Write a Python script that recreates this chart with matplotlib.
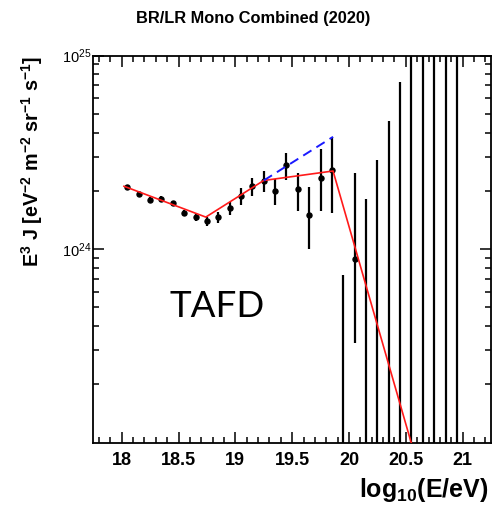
import matplotlib
matplotlib.use("Agg")
import matplotlib.pyplot as plt
from matplotlib.ticker import MultipleLocator, FixedLocator, FuncFormatter, NullFormatter
import numpy as np

plt.rcParams['font.family'] = ['Liberation Sans', 'DejaVu Sans']
plt.rcParams['mathtext.fontset'] = 'custom'
plt.rcParams['mathtext.rm'] = 'Liberation Sans'
plt.rcParams['mathtext.bf'] = 'Liberation Sans:bold'
plt.rcParams['mathtext.it'] = 'Liberation Sans:italic'

# ---- data ----
log_e = [18.05, 18.15, 18.25, 18.35, 18.45, 18.55, 18.65, 18.75, 18.85, 18.95,
         19.05, 19.15, 19.25, 19.35, 19.45, 19.55, 19.65, 19.75, 19.85, 20.05]
flux = [2.08e24, 1.93e24, 1.80e24, 1.82e24, 1.72e24, 1.53e24, 1.47e24, 1.39e24, 1.46e24, 1.62e24,
        1.87e24, 2.11e24, 2.24e24, 2.00e24, 2.72e24, 2.03e24, 1.49e24, 2.34e24, 2.56e24, 0.887e24]
err_lo = [0.05e24, 0.05e24, 0.05e24, 0.05e24, 0.05e24, 0.055e24, 0.07e24, 0.07e24, 0.09e24, 0.12e24,
          0.19e24, 0.23e24, 0.28e24, 0.31e24, 0.45e24, 0.46e24, 0.49e24, 0.76e24, 1.02e24, 0.56e24]
err_hi = [0.05e24, 0.05e24, 0.05e24, 0.05e24, 0.05e24, 0.055e24, 0.07e24, 0.07e24, 0.09e24, 0.12e24,
          0.19e24, 0.23e24, 0.28e24, 0.30e24, 0.42e24, 0.45e24, 0.59e24, 0.93e24, 1.24e24, 1.58e24]

# bins with zero events: only upper error bars drawn
lim_e = [19.95, 20.15, 20.25, 20.35, 20.45, 20.55, 20.65, 20.75, 20.85, 20.95]
lim_hi = [7.3e23, 1.82e24, 2.88e24, 4.6e24, 7.3e24, 1.15e25, 1.8e25, 2.8e25, 4.4e25, 7.0e25]

# broken power law fit (red) and extension without suppression (blue dashed)
fit_e = [18.02, 18.74, 19.25, 19.86, 20.60]
fit_v = [2.11e24, 1.462e24, 2.26e24, 2.53e24, 7.8e22]
ext_e = [19.25, 19.86]
ext_v = [2.26e24, 3.80e24]

x_major = [18, 18.5, 19, 19.5, 20, 20.5, 21]
y_major = [1e24, 1e25]
y_minor = [m * d for d in (1e23, 1e24) for m in (2.0, 3.0, 4.0, 5.0, 6.0, 7.0, 8.0, 9.0)]

# ---- figure ----
W, H = 492, 514
fig = plt.figure(figsize=(W / 100, H / 100), dpi=100)
ax = fig.add_axes([93.3 / W, 1 - 442.5 / H, (491 - 93.3) / W, (442.5 - 55.5) / H])

ax.set_yscale('log')
ax.set_xlim(17.75, 21.25)
ax.set_ylim(1e23, 1e25)

ax.vlines(lim_e, 1e22, lim_hi, colors='black', linewidth=1.6, zorder=3)
ax.errorbar(log_e, flux, yerr=[err_lo, err_hi], fmt='o', color='black',
            markersize=3.6, elinewidth=1.6, capsize=0, zorder=4)
ax.plot(fit_e, fit_v, color='#ff1a1a', linewidth=1.2, zorder=5)
ax.plot(ext_e, ext_v, color='#1a1aff', linewidth=1.4, linestyle=(0, (5, 3)), zorder=5)

ax.text(18.843, 5.05e23, 'TAFD', fontsize=26.5, family=['Lato', 'DejaVu Sans'],
        ha='center', va='center')

# ticks
ax.xaxis.set_major_locator(FixedLocator(x_major))
ax.xaxis.set_minor_locator(MultipleLocator(0.1))
ax.xaxis.set_major_formatter(FuncFormatter(lambda v, p: '%g' % v))
ax.yaxis.set_major_locator(FixedLocator(y_major))
ax.yaxis.set_minor_locator(FixedLocator(y_minor))
ax.yaxis.set_minor_formatter(NullFormatter())
ax.yaxis.set_major_formatter(FuncFormatter(lambda v, p: r'$\mathrm{10^{%d}}$' % int(round(np.log10(float(v))))))

ax.tick_params(which='both', direction='in', top=True, right=True, width=1.1)
ax.tick_params(which='major', length=8)
ax.tick_params(which='minor', length=4.3)
ax.tick_params(axis='x', labelsize=13, pad=7)
ax.tick_params(axis='y', labelsize=10.5, pad=1)
for lab in ax.get_xticklabels():
    lab.set_fontweight('bold')
for s in ax.spines.values():
    s.set_linewidth(1.3)

fig.text(253 / W, 1 - 18 / H, 'BR/LR Mono Combined (2020)', fontsize=11.8,
         fontweight='bold', ha='center', va='center')
fig.text(32 / W, 1 - 161 / H,
         r'$\mathbf{E^{3}\ J\ [eV^{-2}\ m^{-2}\ sr^{-1}\ s^{-1}]}$',
         fontsize=14.2, rotation=90, ha='center', va='center')
fig.text(489 / W, 1 - 490 / H, r'$\mathbf{log_{10}(E/eV)}$', fontsize=18,
         ha='right', va='center')

fig.savefig('out.png', dpi=100)
